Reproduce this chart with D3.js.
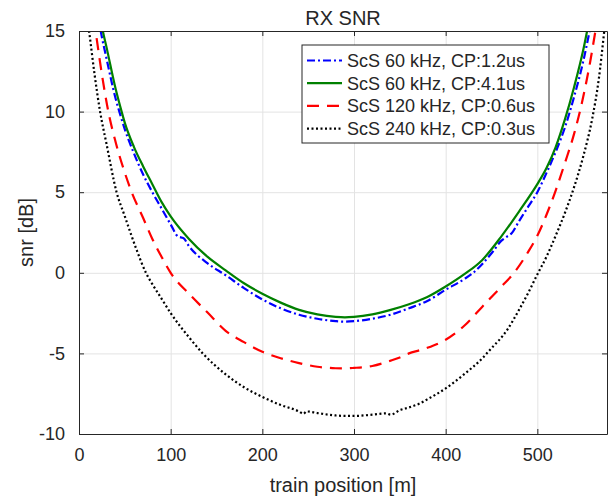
<!DOCTYPE html>
<html>
<head>
<meta charset="utf-8">
<script src="https://cdnjs.cloudflare.com/ajax/libs/d3/7.8.5/d3.min.js"></script>
<style>
  body { margin: 0; background: #fff; }
  text { font-family: "Liberation Sans", Arial, sans-serif; fill: #262626; }
  .grid line { stroke: #e3e3e3; stroke-width: 1; }
</style>
</head>
<body>
<div id="chart"></div>
<script>
// tick labels
var xTicks = [0, 100, 200, 300, 400, 500];
var yTicks = [-10, -5, 0, 5, 10, 15];

// ScS 60 kHz, CP:1.2us
var blueTrainPos = [18, 23.7, 30, 40, 44, 50, 60, 70, 80, 90, 100, 108, 114, 120, 140, 160, 180, 200, 220, 240, 260, 280, 290, 300, 320, 340, 360, 380, 400, 420, 430, 440, 452, 460, 467, 472, 480, 490, 500, 510, 520, 530, 540, 550, 557, 562];
var blueSnr = [17, 15, 13.3, 10.8, 10, 8.9, 7.4, 6.1, 5.0, 4.0, 3.0, 2.25, 2.15, 1.65, 0.6, -0.15, -0.95, -1.65, -2.2, -2.6, -2.85, -3.0, -3.03, -3.0, -2.85, -2.6, -2.2, -1.75, -1.05, -0.4, 0, 0.55, 1.35, 1.95, 2.25, 2.45, 3.2, 4.1, 5.0, 6.2, 7.5, 9.0, 10.9, 13.1, 15, 16.5];

// ScS 60 kHz, CP:4.1us
var greenTrainPos = [20, 26, 30, 40, 46.5, 50, 60, 70, 80, 90, 100, 120, 140, 160, 180, 200, 220, 240, 260, 280, 290, 300, 320, 340, 360, 380, 400, 420, 440, 460, 480, 500, 510, 520, 530, 540, 550, 555, 560];
var greenSnr = [17, 15, 14.0, 11.4, 10, 9.3, 7.8, 6.6, 5.5, 4.4, 3.5, 2.1, 1.0, 0.15, -0.65, -1.3, -1.85, -2.3, -2.58, -2.74, -2.77, -2.74, -2.58, -2.3, -1.95, -1.5, -0.85, -0.1, 0.8, 2.2, 3.8, 5.5, 6.5, 7.8, 9.5, 11.5, 13.8, 15.2, 16.6];

// ScS 120 kHz, CP:0.6us
var redTrainPos = [12, 18, 25, 32, 40, 50, 57.5, 70, 80, 90, 100, 120, 140, 160, 180, 200, 220, 240, 260, 280, 290, 300, 320, 340, 350, 360, 372, 380, 400, 420, 440, 460, 476, 490, 500, 510, 520, 530, 540, 550, 558, 564, 570];
var redSnr = [17, 15, 12.3, 10, 8.1, 6.2, 5, 3.4, 2.1, 1.0, 0.0, -1.3, -2.45, -3.6, -4.3, -4.9, -5.3, -5.6, -5.83, -5.92, -5.93, -5.9, -5.78, -5.45, -5.25, -5.0, -4.8, -4.65, -4.15, -3.3, -2.1, -0.9, 0.1, 1.3, 2.3, 3.6, 5.1, 6.8, 8.6, 10.9, 13.2, 15.2, 17];

// ScS 240 kHz, CP:0.3us
var blackTrainPos = [5, 11, 17, 23, 30, 41, 50, 63, 73, 80, 90, 100, 120, 135, 160, 180, 200, 220, 240, 245, 248, 260, 280, 290, 300, 320, 335, 340, 350, 360, 372, 380, 400, 420, 440, 448, 467, 480, 490, 500, 510, 520, 530, 540, 550, 560, 567, 573, 576];
var blackSnr = [17.5, 15, 12.3, 10, 8.0, 5, 3.5, 1.4, 0, -0.7, -1.6, -2.5, -4.0, -5.0, -6.3, -7.1, -7.7, -8.2, -8.6, -8.75, -8.6, -8.7, -8.85, -8.88, -8.88, -8.8, -8.72, -8.8, -8.52, -8.35, -8.1, -7.85, -7.17, -6.3, -5.3, -4.8, -3.55, -2.3, -1.25, -0.1, 1.0, 2.3, 3.7, 5.3, 7.2, 9.6, 12.0, 15, 16.6];

var margin = {top: 31, right: 2, bottom: 65, left: 79},
    w = 609 - margin.left - margin.right,
    h = 499 - margin.top - margin.bottom;

var series = [
  {name: 'ScS 60 kHz, CP:1.2us', pos: blueTrainPos, snr: blueSnr, color: '#0000ff', dash: '8,3,2,3'},
  {name: 'ScS 60 kHz, CP:4.1us', pos: greenTrainPos, snr: greenSnr, color: '#008000', dash: null},
  {name: 'ScS 120 kHz, CP:0.6us', pos: redTrainPos, snr: redSnr, color: '#ff0000', dash: '12,8'},
  {name: 'ScS 240 kHz, CP:0.3us', pos: blackTrainPos, snr: blackSnr, color: '#000000', dash: '2,2.5'}
];

var svg = d3.select('#chart').append('svg')
            .attr('width', 609)
            .attr('height', 499);

var xScale = d3.scaleLinear().domain([0, 576]).range([0, w]),
    yScale = d3.scaleLinear().domain([-10, 15]).range([h, 0]);

var focus = svg.append('g')
               .attr('transform', 'translate(' + margin.left + ',' + margin.top + ')');

// white plot background
focus.append('rect')
     .attr('width', w)
     .attr('height', h)
     .attr('fill', '#fff');

// grid lines
focus.append('g')
     .attr('class', 'grid')
     .attr('transform', 'translate(0,' + h + ')')
     .call(d3.axisBottom(xScale).tickValues(xTicks).tickSize(-h).tickFormat(''))
     .call(function(g) { g.select('.domain').remove(); });

focus.append('g')
     .attr('class', 'grid')
     .call(d3.axisLeft(yScale).tickValues(yTicks).tickSize(-w).tickFormat(''))
     .call(function(g) { g.select('.domain').remove(); });

focus.append('clipPath')
     .attr('id', 'plot-clip')
     .append('rect')
     .attr('width', w)
     .attr('height', h);

var line = d3.line()
             .x(function(d) { return xScale(d[0]); })
             .y(function(d) { return yScale(d[1]); })
             .curve(d3.curveMonotoneX);

focus.append('g')
     .attr('clip-path', 'url(#plot-clip)')
     .selectAll('path')
     .data(series)
     .enter().append('path')
     .attr('d', function(s) { return line(d3.zip(s.pos, s.snr)); })
     .attr('fill', 'none')
     .attr('stroke', function(s) { return s.color; })
     .attr('stroke-width', 2.2)
     .attr('stroke-dasharray', function(s) { return s.dash; });

// axes, ticks pointing inward like matlab, plain hyphen for negatives
var axisColor = '#262626';
var plain = function(d) { return String(d); };

var xAxis = focus.append('g')
                 .attr('transform', 'translate(0,' + h + ')')
                 .call(d3.axisBottom(xScale).tickValues(xTicks).tickFormat(plain).tickSizeInner(-5).tickSizeOuter(0).tickPadding(14));
var yAxis = focus.append('g')
                 .call(d3.axisLeft(yScale).tickValues(yTicks).tickFormat(plain).tickSizeInner(-5).tickSizeOuter(0).tickPadding(14));
var xTop = focus.append('g')
                .call(d3.axisTop(xScale).tickValues(xTicks).tickSizeInner(-5).tickSizeOuter(0).tickFormat(''));
var yRight = focus.append('g')
                  .attr('transform', 'translate(' + w + ',0)')
                  .call(d3.axisRight(yScale).tickValues(yTicks).tickSizeInner(-5).tickSizeOuter(0).tickFormat(''));

[xAxis, yAxis, xTop, yRight].forEach(function(a) {
  a.selectAll('path, line').attr('stroke', axisColor);
  a.selectAll('text')
   .attr('fill', axisColor)
   .style('font-size', '18px')
   .style('font-family', '"Liberation Sans", Arial, sans-serif');
});

// legend
var legend = svg.append('g')
                .attr('transform', 'translate(302,45)');

legend.append('rect')
      .attr('width', 247)
      .attr('height', 98)
      .attr('fill', '#fff')
      .attr('stroke', axisColor)
      .attr('stroke-width', 1);

var key = legend.selectAll('g')
                .data(series)
                .enter().append('g')
                .attr('transform', function(d, i) {
                  return 'translate(0,' + (15.5 + i * 22.7) + ')';
                });

key.append('line')
   .attr('x1', 5)
   .attr('x2', 40)
   .attr('stroke', function(d) { return d.color; })
   .attr('stroke-width', 2.2)
   .attr('stroke-dasharray', function(d) { return d.dash; });

key.append('text')
   .attr('x', 45)
   .attr('dy', '0.35em')
   .style('font-size', '18px')
   .text(function(d) { return d.name; });

// titles and labels
svg.append('text')
   .attr('text-anchor', 'middle')
   .attr('x', margin.left + w / 2)
   .attr('y', 25)
   .style('font-size', '20px')
   .text('RX SNR');

svg.append('text')
   .attr('text-anchor', 'middle')
   .attr('x', margin.left + w / 2)
   .attr('y', 492)
   .style('font-size', '20px')
   .text('train position [m]');

svg.append('text')
   .attr('text-anchor', 'middle')
   .attr('transform', 'translate(33,' + (margin.top + h / 2) + ')rotate(-90)')
   .style('font-size', '20px')
   .text('snr [dB]');
</script>
</body>
</html>
